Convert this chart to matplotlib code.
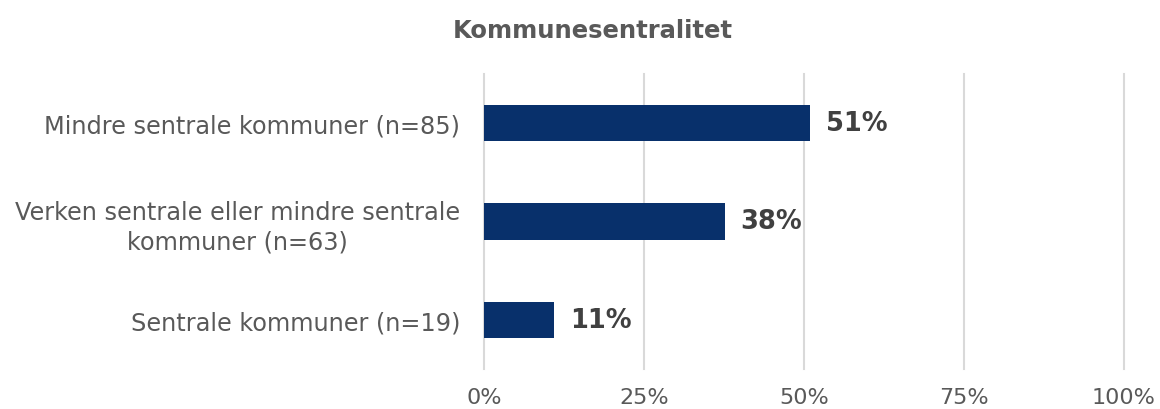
import matplotlib
matplotlib.use("Agg")
import matplotlib.pyplot as plt
from matplotlib.ticker import FuncFormatter

# data
categories = ["Sentrale kommuner (n=19)",
              "Verken sentrale eller mindre sentrale\nkommuner (n=63)",
              "Mindre sentrale kommuner (n=85)"]
values = [0.11, 0.377, 0.51]
labels = ["11%", "38%", "51%"]
xticks = [0, 0.25, 0.5, 0.75, 1.0]

bar_color = "#08306B"
text_gray = "#595959"

plt.rcParams['font.family'] = ['DejaVu Sans']

fig = plt.figure(figsize=(11.6, 4.1), dpi=100)
ax = fig.add_axes([0.4172, 0.0976, 0.5517, 0.7195])

ypos = range(len(categories))
ax.barh(ypos, values, height=0.37, color=bar_color, zorder=3)

for y, v, lab in zip(ypos, values, labels):
    ax.annotate(lab, (v, y), xytext=(11, 0), textcoords="offset points",
                va="center", ha="left", fontsize=18.5, fontweight="bold",
                color="#404040")

ax.set_xlim(0, 1)
ax.set_ylim(-0.5, 2.5)
ax.set_xticks(xticks)
ax.xaxis.set_major_formatter(FuncFormatter(lambda x, p: f"{x*100:.0f}%"))
ax.set_yticks(list(ypos))
ax.set_yticklabels(categories, ha="right", multialignment="center", linespacing=1.3)
ax.tick_params(axis="y", length=0, pad=17, labelsize=17.3, labelcolor=text_gray)
ax.tick_params(axis="x", length=0, pad=13, labelsize=16, labelcolor=text_gray)

ax.grid(axis="x", color="#D9D9D9", linewidth=1.5, zorder=0)
for g in ax.get_xgridlines():
    g.set_clip_on(False)
for s in ax.spines.values():
    s.set_visible(False)

fig.text(0.511, 0.925, "Kommunesentralitet", ha="center", va="center",
         fontsize=17.5, fontweight="bold", color=text_gray)

fig.savefig("out.png", dpi=100)
